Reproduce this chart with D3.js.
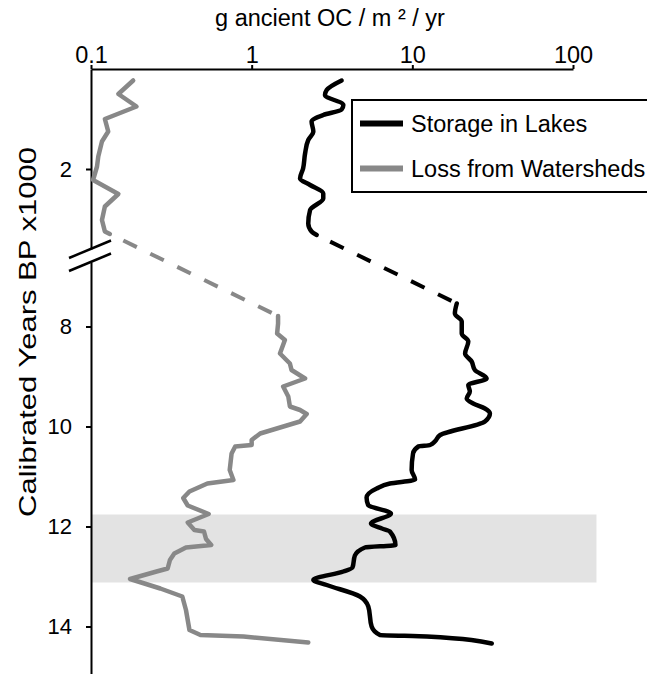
<!DOCTYPE html>
<html>
<head>
<meta charset="utf-8">
<script src="https://cdn.jsdelivr.net/npm/d3@7"></script>
<style>
  body { margin: 0; background: #fff; }
  text { font-family: "Liberation Sans", Arial, Helvetica, sans-serif; }
</style>
</head>
<body>
<svg id="chart"></svg>
<script>
let width = 647;
let height = 674;

// x axis (log) ticks
const xTicks = [0.1, 1, 10, 100];
const yTopTicks = [2];
const yLowTicks = [8, 10, 12, 14];

// upper (late Holocene) segment, age in kyr BP and flux in g/m2/yr
const lossTopAge = [0.23, 0.5, 0.75, 1.0, 1.25, 1.45, 1.75, 1.95, 2.22, 2.5, 2.75, 3.02, 3.25, 3.3];
const lossTopFlux = [0.183, 0.148, 0.192, 0.122, 0.128, 0.117, 0.111, 0.109, 0.103, 0.148, 0.122, 0.117, 0.122, 0.131];

const lakesTopAge = [0.23, 0.42, 0.52, 0.72, 0.81, 0.92, 1.05, 1.25, 1.42, 1.69, 1.99, 2.19, 2.32, 2.49, 2.59, 2.82, 3.09, 3.25, 3.32];
const lakesTopFlux = [3.63, 2.93, 2.86, 3.72, 3.63, 2.79, 2.36, 2.42, 2.25, 2.15, 2.09, 2.0, 2.31, 2.79, 2.79, 2.31, 2.25, 2.36, 2.54];

// lower (early Holocene / deglacial) segment
const lossLowAge = [7.79, 7.94, 8.14, 8.27, 8.54, 8.74, 8.87, 9.04, 9.2, 9.4,
  9.6, 9.67, 9.75, 9.9, 10.14, 10.27, 10.37, 10.4, 10.54, 10.87,
  11.07, 11.14, 11.3, 11.43, 11.58, 11.75, 11.92, 12.07, 12.1, 12.25,
  12.37, 12.42, 12.54, 12.67, 12.84, 12.9, 13.05, 13.24, 13.4, 13.67,
  14.07, 14.17, 14.2, 14.32];
const lossLowFlux = [1.46, 1.46, 1.44, 1.61, 1.50, 1.73, 1.77, 2.15, 1.57, 1.69,
  1.73, 2.0, 2.2, 2.0, 1.13, 1.0, 1.0, 0.79, 0.75, 0.73,
  0.77, 0.53, 0.41, 0.375, 0.40, 0.54, 0.40, 0.44, 0.505, 0.52,
  0.56, 0.39, 0.33, 0.31, 0.30, 0.256, 0.175, 0.27, 0.37, 0.39,
  0.41, 0.48, 0.89, 2.25];

const lakesLowAge = [7.54, 7.74, 7.9, 8.14, 8.3, 8.54, 8.7, 8.87, 9.04, 9.17,
  9.3, 9.44, 9.54, 9.64, 9.74, 9.9, 10.17, 10.3, 10.37, 10.4,
  10.54, 10.87, 11.06, 11.14, 11.24, 11.42, 11.57, 11.74, 11.94, 12.04,
  12.1, 12.37, 12.42, 12.58, 12.82, 12.9, 13.07, 13.17, 13.4, 13.6,
  14.0, 14.17, 14.2, 14.34];
const lakesLowFlux = [18.9, 18.4, 20.3, 20.3, 22.3, 21.3, 23.4, 24.5, 29.0, 22.3,
  22.8, 21.8, 23.9, 28.3, 30.4, 28.3, 14.9, 13.8, 12.9, 10.9,
  10.1, 9.9, 10.4, 7.25, 6.0, 5.19, 5.31, 7.36, 5.53, 6.47,
  7.25, 7.85, 5.07, 4.39, 4.24, 3.72, 2.42, 2.93, 4.72, 5.32,
  5.58, 6.29, 12.3, 31.2];

// shaded interval (Younger Dryas)
const bandAge = [11.76, 13.12];
const bandFlux = [0.1, 140];

const legendLabels = ['Storage in Lakes', 'Loss from Watersheds'];

const BLACK = '#000';
const GRAY = '#888';

let svg = d3.select('#chart')
  .attr('width', width)
  .attr('height', height);

let x = d3.scaleLog()
  .domain([0.1, 100])
  .range([91, 573]);

let yTop = d3.scaleLinear()
  .domain([0, 3.6])
  .range([69, 249]);

let yLow = d3.scaleLinear()
  .domain([6.71, 14.95])
  .range([262, 674]);

const zip = (a, f) => a.map((t, i) => ({ t: t, v: f[i] }));

// band
svg.append('rect')
  .attr('x', x(bandFlux[0]))
  .attr('y', yLow(bandAge[0]))
  .attr('width', x(bandFlux[1]) - x(bandFlux[0]))
  .attr('height', yLow(bandAge[1]) - yLow(bandAge[0]))
  .attr('fill', '#e3e3e3');

// axes
let xAxis = g => g
  .attr('transform', `translate(0,${yTop(0)})`)
  .call(d3.axisTop(x).tickValues(xTicks).tickFormat(d => String(d)).tickSize(4).tickSizeOuter(0).tickPadding(2))
  .call(g => g.selectAll('path, line').attr('stroke', '#000').attr('stroke-width', 2))
  .call(g => g.selectAll('text').attr('fill', '#000').attr('font-size', 23.5));

let yAxis = (scale, ticks) => g => g
  .attr('transform', `translate(${x(0.1)},0)`)
  .call(d3.axisLeft(scale).tickValues(ticks).tickFormat(d3.format('d')).tickSize(5).tickSizeOuter(0).tickPadding(14))
  .call(g => g.selectAll('path, line').attr('stroke', '#000').attr('stroke-width', 2))
  .call(g => g.selectAll('text').attr('fill', '#000').attr('font-size', 22));

svg.append('g').call(yAxis(yTop, yTopTicks));
svg.append('g').call(yAxis(yLow, yLowTicks));
svg.append('g').call(xAxis);

// axis break marks
[yTop.range()[1], yLow.range()[0]].forEach(yb => {
  svg.append('line')
    .attr('x1', x(0.1) - 22).attr('y1', yb + 9)
    .attr('x2', x(0.1) + 20).attr('y2', yb - 8.5)
    .attr('stroke', '#000')
    .attr('stroke-width', 2.5);
});

// lines
let lineTop = d3.line().x(d => x(d.v)).y(d => yTop(d.t));
let lineLow = d3.line().x(d => x(d.v)).y(d => yLow(d.t));

function drawSeries(topAge, topFlux, lowAge, lowFlux, color, curve) {
  let top = zip(topAge, topFlux);
  let low = zip(lowAge, lowFlux);
  svg.append('path')
    .datum(top)
    .attr('d', lineTop.curve(curve))
    .attr('fill', 'none')
    .attr('stroke', color)
    .attr('stroke-width', 4.5)
    .attr('stroke-linejoin', 'round')
    .attr('stroke-linecap', 'round');
  svg.append('path')
    .datum(low)
    .attr('d', lineLow.curve(curve))
    .attr('fill', 'none')
    .attr('stroke', color)
    .attr('stroke-width', 4.5)
    .attr('stroke-linejoin', 'round')
    .attr('stroke-linecap', 'round');
  // dashed connection across the break
  let a = top[top.length - 1], b = low[0];
  svg.append('line')
    .attr('x1', x(a.v)).attr('y1', yTop(a.t))
    .attr('x2', x(b.v)).attr('y2', yLow(b.t))
    .attr('stroke', color)
    .attr('stroke-width', 4)
    .attr('stroke-dasharray', '15,15')
    .attr('stroke-dashoffset', 15);
}

drawSeries(lossTopAge, lossTopFlux, lossLowAge, lossLowFlux, GRAY, d3.curveLinear);
drawSeries(lakesTopAge, lakesTopFlux, lakesLowAge, lakesLowFlux, BLACK, d3.curveMonotoneY);

// axis titles
svg.append('text')
  .attr('x', 330)
  .attr('y', 26)
  .attr('text-anchor', 'middle')
  .attr('font-size', 23.5)
  .text('g ancient OC / m ² / yr');

svg.append('text')
  .attr('transform', 'translate(36,332) rotate(-90)')
  .attr('text-anchor', 'middle')
  .attr('font-size', 24)
  .attr('textLength', 370)
  .attr('lengthAdjust', 'spacingAndGlyphs')
  .text('Calibrated Years BP x1000');

// legend
let legend = svg.append('g');
legend.append('rect')
  .attr('x', 352)
  .attr('y', 100)
  .attr('width', 310)
  .attr('height', 92)
  .attr('fill', '#fff')
  .attr('stroke', '#000')
  .attr('stroke-width', 2);

[BLACK, GRAY].forEach((c, i) => {
  let yy = 123.5 + i * 45;
  legend.append('line')
    .attr('x1', 360).attr('x2', 403)
    .attr('y1', yy).attr('y2', yy)
    .attr('stroke', c)
    .attr('stroke-width', 6);
  legend.append('text')
    .attr('x', 411)
    .attr('y', yy + 8.5)
    .attr('font-size', 23.5)
    .text(legendLabels[i]);
});
</script>
</body>
</html>
